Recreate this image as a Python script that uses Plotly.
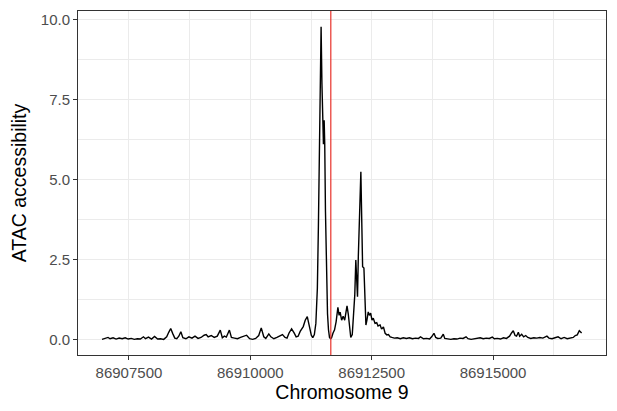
import plotly.graph_objects as go

# Genomic positions (chromosome 9) and ATAC accessibility values
positions = [
    86906944, 86907006, 86907069, 86907110, 86907173, 86907235, 86907298, 86907360,
    86907423, 86907485, 86907548, 86907610, 86907673, 86907735, 86907798, 86907840,
    86907902, 86907965, 86908027, 86908090, 86908152, 86908215, 86908277, 86908319,
    86908360, 86908402, 86908444, 86908485, 86908527, 86908569, 86908610, 86908673,
    86908735, 86908798, 86908860, 86908923, 86908985, 86909048, 86909090, 86909131,
    86909194, 86909256, 86909319, 86909381, 86909423, 86909465, 86909506, 86909569,
    86909610, 86909673, 86909735, 86909798, 86909860, 86909923, 86909985, 86910048,
    86910110, 86910173, 86910225, 86910277, 86910319, 86910381, 86910423, 86910485,
    86910548, 86910610, 86910662, 86910715, 86910756, 86910798, 86910850, 86910902,
    86910944, 86910985, 86911027, 86911090, 86911131, 86911173, 86911215, 86911256,
    86911287, 86911319, 86911350, 86911381, 86911402, 86911423, 86911444, 86911458,
    86911475, 86911492, 86911506, 86911521, 86911533, 86911548, 86911569, 86911590,
    86911610, 86911631, 86911652, 86911673, 86911704, 86911735, 86911767, 86911804,
    86911829, 86911850, 86911881, 86911912, 86911944, 86911992, 86912017, 86912048,
    86912069, 86912100, 86912131, 86912152, 86912173, 86912194, 86912208, 86912225,
    86912246, 86912277, 86912298, 86912313, 86912340, 86912360, 86912381, 86912402,
    86912429, 86912454, 86912479, 86912506, 86912533, 86912569, 86912604, 86912631,
    86912673, 86912704, 86912742, 86912777, 86912813, 86912846, 86912881, 86912917,
    86912965, 86913027, 86913090, 86913152, 86913215, 86913277, 86913340, 86913402,
    86913465, 86913506, 86913569, 86913631, 86913694, 86913735, 86913783, 86913819,
    86913860, 86913923, 86913975, 86914006, 86914069, 86914131, 86914194, 86914256,
    86914319, 86914381, 86914444, 86914485, 86914548, 86914610, 86914673, 86914735,
    86914798, 86914860, 86914923, 86914985, 86915027, 86915090, 86915152, 86915215,
    86915277, 86915340, 86915381, 86915417, 86915454, 86915485, 86915521, 86915548,
    86915590, 86915631, 86915673, 86915715, 86915777, 86915840, 86915902, 86915965,
    86916027, 86916069, 86916110, 86916152, 86916215, 86916277, 86916340, 86916402,
    86916465, 86916527, 86916590, 86916652, 86916694, 86916735, 86916777, 86916825,
]

accessibility = [
    0.00, 0.02, 0.06, 0.02, 0.05, 0.01, 0.04, 0.02,
    0.05, 0.01, 0.03, 0.00, 0.02, 0.01, 0.08, 0.02,
    0.07, 0.01, 0.09, 0.01, 0.02, 0.00, 0.08, 0.22,
    0.34, 0.18, 0.04, 0.02, 0.10, 0.24, 0.05, 0.02,
    0.08, 0.04, 0.10, 0.03, 0.06, 0.13, 0.15, 0.08,
    0.12, 0.06, 0.10, 0.29, 0.05, 0.10, 0.07, 0.29,
    0.06, 0.04, 0.02, 0.06, 0.10, 0.13, 0.02, 0.00,
    0.03, 0.12, 0.36, 0.08, 0.03, 0.17, 0.08, 0.02,
    0.06, 0.10, 0.15, 0.06, 0.04, 0.20, 0.33, 0.20,
    0.08, 0.10, 0.25, 0.40, 0.60, 0.71, 0.40, 0.13,
    0.05, 0.15, 0.50, 1.60, 3.50, 6.00, 8.50, 9.78,
    8.00, 6.85, 6.10, 6.85, 6.10, 4.00, 2.00, 0.80,
    0.30, 0.06, 0.02, 0.05, 0.20, 0.30, 0.55, 1.00,
    0.75, 0.85, 0.60, 0.72, 0.60, 1.05, 0.80, 0.30,
    0.06, 0.15, 0.80, 1.40, 2.48, 1.80, 1.33, 2.60,
    4.00, 5.24, 3.50, 2.27, 2.23, 1.20, 0.45, 0.60,
    0.86, 0.75, 0.82, 0.60, 0.66, 0.50, 0.52, 0.42,
    0.45, 0.32, 0.39, 0.19, 0.14, 0.15, 0.08, 0.06,
    0.04, 0.05, 0.02, 0.05, 0.03, 0.05, 0.02, 0.04,
    0.03, 0.08, 0.02, 0.03, 0.01, 0.08, 0.19, 0.06,
    0.03, 0.04, 0.16, 0.03, 0.02, 0.00, 0.02, 0.01,
    0.04, 0.03, 0.08, 0.02, 0.00, 0.01, 0.02, 0.05,
    0.02, 0.04, 0.03, 0.07, 0.02, 0.03, 0.01, 0.05,
    0.03, 0.10, 0.20, 0.27, 0.12, 0.10, 0.22, 0.10,
    0.16, 0.08, 0.12, 0.06, 0.03, 0.05, 0.04, 0.06,
    0.04, 0.08, 0.10, 0.04, 0.02, 0.05, 0.08, 0.02,
    0.06, 0.02, 0.04, 0.06, 0.12, 0.14, 0.27, 0.20,
]

marker_position = 86911658  # red vertical reference line

x_tickvals = [86907500, 86910000, 86912500, 86915000]
x_ticktext = ["86907500", "86910000", "86912500", "86915000"]
y_tickvals = [0.0, 2.5, 5.0, 7.5, 10.0]
y_ticktext = ["0.0", "2.5", "5.0", "7.5", "10.0"]

fig = go.Figure()
fig.add_trace(go.Scatter(
    x=positions, y=accessibility, mode="lines",
    line=dict(color="black", width=1.4), showlegend=False, hoverinfo="skip",
))
fig.add_vline(x=marker_position, line=dict(color="#E8312A", width=1.2))

FONT = "Liberation Sans, Arial, Helvetica, sans-serif"
grid = "#EBEBEB"

fig.update_layout(
    width=617, height=411,
    margin=dict(l=78, r=11, t=11, b=56),
    plot_bgcolor="white", paper_bgcolor="white",
    font=dict(family=FONT, color="black"),
)
fig.update_xaxes(
    range=[86906450, 86917327], automargin=False,
    tickmode="array", tickvals=x_tickvals, ticktext=x_ticktext,
    tickfont=dict(size=15, color="#4D4D4D", family=FONT),
    ticks="outside", ticklen=4, tickcolor="#333333", tickwidth=1,
    showgrid=True, gridcolor=grid, gridwidth=1.2,
    minor=dict(dtick=1250, tick0=86907500, showgrid=True, gridcolor=grid, gridwidth=0.6, ticks=""),
    showline=True, mirror=True, linecolor="#333333", linewidth=1,
    zeroline=False,
    title=dict(text="Chromosome 9", font=dict(size=19.5, color="black", family=FONT), standoff=4),
)
fig.update_yaxes(
    range=[-0.489, 10.27], automargin=False,
    tickmode="array", tickvals=y_tickvals, ticktext=y_ticktext,
    tickfont=dict(size=15, color="#4D4D4D", family=FONT),
    ticks="outside", ticklen=4, tickcolor="#333333", tickwidth=1,
    showgrid=True, gridcolor=grid, gridwidth=1.2,
    minor=dict(dtick=1.25, tick0=0, showgrid=True, gridcolor=grid, gridwidth=0.6, ticks=""),
    showline=True, mirror=True, linecolor="#333333", linewidth=1,
    zeroline=False,
    title=dict(text="ATAC accessibility", font=dict(size=19.5, color="black", family=FONT), standoff=8),
)

fig.write_html("out.html", config={"displayModeBar": False},
               post_script="document.body.style.margin='0';")
